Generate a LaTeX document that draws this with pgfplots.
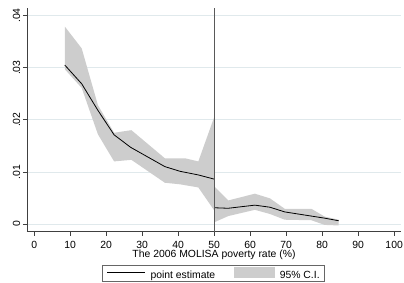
\documentclass[border=0pt]{standalone}
\usepackage{fontspec}
\setmainfont{Liberation Sans}
\usepackage{pgfplots}
\pgfplotsset{compat=1.18}
\definecolor{bandgray}{RGB}{205,205,205}
\definecolor{gridc}{RGB}{224,233,236}
\begin{document}
\begin{tikzpicture}
\path[use as bounding box] (-27bp,-51.3bp) rectangle (377bp,231.7bp);
\begin{axis}[
  at={(0,0)}, anchor=south west,
  scale only axis, width=374bp, height=223.7bp,
  xmin=-2, xmax=101.9, ymin=-0.0015, ymax=0.04146,
  axis x line=bottom, axis y line=left,
  axis line style={-, black!75, line width=0.5bp},
  tick align=outside, major tick length=4bp,
  tick style={black!75, line width=0.5bp},
  xtick={0,10,...,100},
  ytick={0,0.01,0.02,0.03,0.04},
  yticklabels={0,.01,.02,.03,.04},
  scaled y ticks=false,
  /pgf/number format/assume math mode=true,
  ymajorgrids, grid style={gridc, line width=0.6bp},
  font=\fontsize{10.4bp}{12bp}\selectfont,
  ticklabel style={font=\fontsize{10.4bp}{12bp}\selectfont},
  yticklabel style={rotate=90, anchor=south, inner sep=2.5bp},
  xticklabel style={inner sep=5bp},
  xlabel={The 2006 MOLISA poverty rate (\%)},
  xlabel style={at={(axis description cs:0.5,0)}, anchor=base, inner sep=0bp, yshift=-25.8bp},
  clip=false,
  legend columns=2,
  legend style={at={(0.2005,-0.1489)}, anchor=north west, draw=black!60,
    line width=0.5bp, inner xsep=4.5bp, inner ysep=1.5bp,
    font=\fontsize{10.4bp}{12bp}\selectfont,
    nodes={inner sep=0bp},
    /tikz/every odd column/.append style={column sep=5bp},
    /tikz/every even column/.append style={column sep=19bp}},
  legend cell align=left,
]
% confidence band, left segment (upper forward, lower backward)
\addplot[fill=bandgray, draw=none, forget plot] coordinates {
 (8.5,0.0379) (13.2,0.0337) (17.7,0.0228) (22.2,0.0175) (27.0,0.0180)
 (36.3,0.0126) (41.9,0.0126) (45.6,0.0120) (50,0.0205)
 (50,0.0026) (45.6,0.0070) (40.5,0.0076) (36.3,0.0079) (27.0,0.0123)
 (22.2,0.0120) (17.7,0.0172) (13.2,0.0261) (8.5,0.0297)} -- cycle;
% right segment
\addplot[fill=bandgray, draw=none, forget plot] coordinates {
 (50,0.0072) (53.9,0.0045) (61.3,0.0058) (65.5,0.0049) (69.6,0.0029)
 (77.0,0.0029) (80.7,0.0014) (84.6,0.0008)
 (84.6,-0.0003) (80.7,-0.0002) (77.0,0.0007) (69.6,0.0008) (65.5,0.0019)
 (61.3,0.0027) (53.9,0.0015) (50,0.0003)} -- cycle;
% point estimates
\addplot[black, line width=0.8bp, forget plot] coordinates {
 (8.5,0.0305) (13.2,0.0269) (17.7,0.0218) (22.2,0.0171) (26.8,0.0147)
 (36.3,0.0110) (40.5,0.0101) (45.6,0.0094) (50,0.0086)};
\addplot[black, line width=0.8bp, forget plot] coordinates {
 (50,0.0031) (53.9,0.0030) (61.3,0.0036) (65.5,0.0032) (69.6,0.0023)
 (77.0,0.0015) (80.7,0.0011) (84.6,0.0006)};
% cutoff line
\addplot[black!65, line width=0.5bp, forget plot] coordinates {(50,-0.0015) (50,0.04146)};
\addlegendimage{legend image code/.code={\draw[black, line width=0.8bp] (0bp,3.5bp) -- (38bp,3.5bp);}}
\addlegendentry{point estimate}
\addlegendimage{legend image code/.code={\fill[bandgray] (0bp,-1.5bp) rectangle (40bp,8.5bp);}}
\addlegendentry{95\% C.I.}
\end{axis}
\end{tikzpicture}
\end{document}
